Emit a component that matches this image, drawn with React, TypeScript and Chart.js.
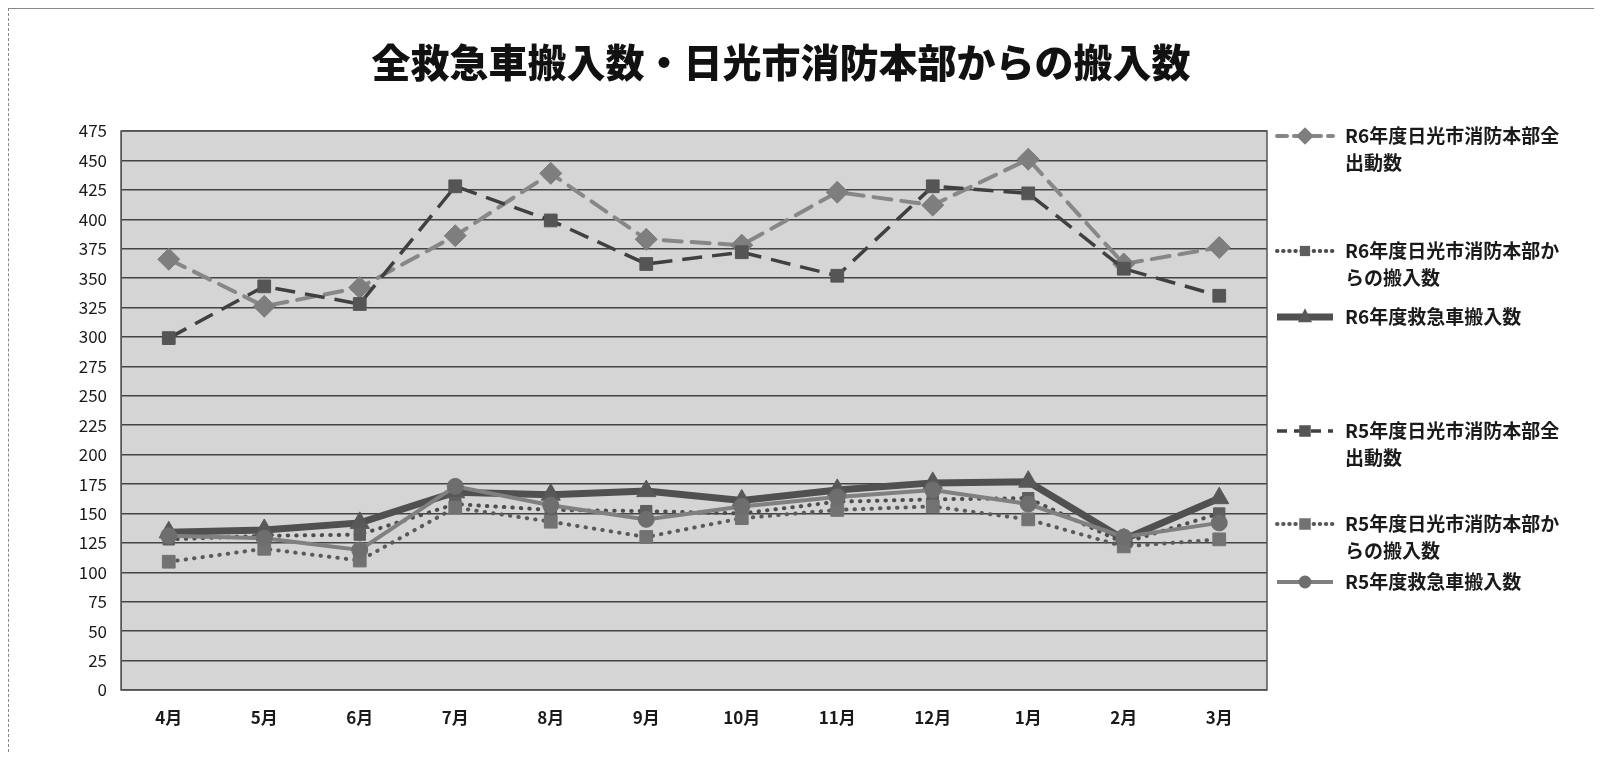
import React, { useEffect, useRef } from "react";
import { Chart, registerables } from "chart.js";

Chart.register(...registerables);

const chartTitle = "全救急車搬入数・日光市消防本部からの搬入数";
const months = ["4月", "5月", "6月", "7月", "8月", "9月", "10月", "11月", "12月", "1月", "2月", "3月"];
const yTicks = { min: 0, max: 475, step: 25 };

const seriesNames = [
  "R6年度日光市消防本部全出動数",
  "R6年度日光市消防本部からの搬入数",
  "R6年度救急車搬入数",
  "R5年度日光市消防本部全出動数",
  "R5年度日光市消防本部からの搬入数",
  "R5年度救急車搬入数",
];

const r6Dispatch = [366, 326, 342, 386, 439, 383, 378, 423, 412, 451, 362, 376];
const r6Transport = [128, 131, 132, 158, 153, 152, 150, 160, 162, 163, 125, 150];
const r6Ambulance = [134, 136, 142, 168, 166, 169, 161, 170, 176, 177, 128, 163];
const r5Dispatch = [299, 343, 328, 428, 399, 362, 372, 352, 428, 422, 358, 335];
const r5Transport = [109, 120, 110, 155, 143, 130, 146, 153, 156, 145, 122, 128];
const r5Ambulance = [131, 129, 119, 173, 157, 145, 156, 164, 170, 158, 130, 142];

const FONT = "'Noto Sans CJK JP', 'Noto Sans', sans-serif";

type Style = {
  color: string;
  markerColor: string;
  width: number;
  dash: number[];
  cap: CanvasLineCap;
  point: string;
  radius: number;
};

const styles: Style[] = [
  { color: "#878787", markerColor: "#7e7e7e", width: 4, dash: [18, 10], cap: "round", point: "rectRot", radius: 11 },
  { color: "#4e4e4e", markerColor: "#5e5e5e", width: 4, dash: [0.5, 8], cap: "round", point: "rect", radius: 8 },
  { color: "#505050", markerColor: "#585858", width: 7, dash: [], cap: "butt", point: "triangle", radius: 11 },
  { color: "#404040", markerColor: "#555555", width: 3.5, dash: [20, 10], cap: "butt", point: "rect", radius: 9 },
  { color: "#5a5a5a", markerColor: "#727272", width: 4, dash: [0.5, 8], cap: "round", point: "rect", radius: 9 },
  { color: "#808080", markerColor: "#6e6e6e", width: 4, dash: [], cap: "butt", point: "circle", radius: 8 },
];

const seriesValues = [r6Dispatch, r6Transport, r6Ambulance, r5Dispatch, r5Transport, r5Ambulance];

function drawMarker(ctx: CanvasRenderingContext2D, kind: string, x: number, y: number, r: number, color: string) {
  ctx.save();
  ctx.fillStyle = color;
  ctx.beginPath();
  if (kind === "rectRot") {
    ctx.moveTo(x, y - r);
    ctx.lineTo(x + r, y);
    ctx.lineTo(x, y + r);
    ctx.lineTo(x - r, y);
    ctx.closePath();
  } else if (kind === "rect") {
    const s = r * 0.8;
    ctx.rect(x - s, y - s, s * 2, s * 2);
  } else if (kind === "triangle") {
    ctx.moveTo(x, y - r);
    ctx.lineTo(x + r * 0.8, y + r * 0.6);
    ctx.lineTo(x - r * 0.8, y + r * 0.6);
    ctx.closePath();
  } else {
    ctx.arc(x, y, r, 0, Math.PI * 2);
  }
  ctx.fill();
  ctx.restore();
}

const plotBgPlugin = {
  id: "plotBg",
  beforeDraw(chart: any) {
    const { ctx, chartArea: a } = chart;
    ctx.save();
    ctx.fillStyle = "#d5d5d5";
    ctx.fillRect(a.left, a.top, a.right - a.left, a.bottom - a.top);
    ctx.restore();
  },
  beforeDatasetsDraw(chart: any) {
    const { ctx, chartArea: a } = chart;
    ctx.save();
    ctx.strokeStyle = "#555";
    ctx.lineWidth = 1.5;
    ctx.strokeRect(a.left, a.top, a.right - a.left, a.bottom - a.top);
    ctx.restore();
  },
  afterDraw(chart: any) {
    const { ctx } = chart;
    ctx.save();
    ctx.font = `900 39px ${FONT}`;
    ctx.fillStyle = "#111";
    ctx.textAlign = "center";
    ctx.textBaseline = "middle";
    ctx.fillText(chartTitle, 772, 53);
    ctx.restore();
  },
};

const legendTops = [127, 242, 308, 422, 515, 573];

const sideLegendPlugin = {
  id: "sideLegend",
  afterDraw(chart: any) {
    const { ctx, chartArea } = chart;
    const x0 = chartArea.right + 10;
    const x1 = x0 + 56;
    const tx = x1 + 12;
    const maxW = 228;
    ctx.save();
    ctx.font = `bold 19px ${FONT}`;
    ctx.textBaseline = "middle";
    ctx.fillStyle = "#1a1a1a";
    chart.data.datasets.forEach((ds: any, i: number) => {
      const st = styles[i];
      const y = legendTops[i];
      ctx.save();
      ctx.strokeStyle = st.color;
      ctx.lineWidth = st.width;
      ctx.lineCap = st.cap;
      ctx.setLineDash(st.dash.length ? [Math.min(st.dash[0], 10), st.dash[1] * 0.7] : []);
      ctx.beginPath();
      ctx.moveTo(x0, y);
      ctx.lineTo(x1, y);
      ctx.stroke();
      ctx.restore();
      drawMarker(ctx, st.point, (x0 + x1) / 2, y, st.radius * 0.8, st.markerColor);
      const lines: string[] = [];
      let cur = "";
      for (const ch of ds.label as string) {
        if (ctx.measureText(cur + ch).width > maxW && cur) {
          lines.push(cur);
          cur = ch;
        } else cur += ch;
      }
      if (cur) lines.push(cur);
      lines.forEach((ln, k) => ctx.fillText(ln, tx, y + k * 27));
    });
    ctx.restore();
  },
};

export default function App() {
  const ref = useRef<HTMLCanvasElement | null>(null);
  useEffect(() => {
    if (!ref.current) return;
    const chart = new Chart(ref.current, {
      type: "line",
      data: {
        labels: months,
        datasets: seriesNames.map((name, i) => ({
          label: name,
          data: seriesValues[i],
          borderColor: styles[i].color,
          backgroundColor: styles[i].markerColor,
          borderWidth: styles[i].width,
          borderDash: styles[i].dash,
          borderCapStyle: styles[i].cap,
          pointStyle: styles[i].point as any,
          pointRadius: styles[i].radius,
          pointBackgroundColor: styles[i].markerColor,
          pointBorderColor: styles[i].markerColor,
          pointBorderWidth: 1,
          tension: 0,
          fill: false,
          order: 6 - i,
        })),
      },
      options: {
        animation: false,
        responsive: true,
        maintainAspectRatio: false,
        layout: { padding: { left: 8, right: 327, top: 122, bottom: 10 } },
        plugins: {
          legend: { display: false },
          tooltip: { enabled: false },
          title: { display: false },
        },
        scales: {
          x: {
            offset: true,
            grid: { display: false },
            border: { display: false },
            ticks: { color: "#1a1a1a", font: { family: FONT, size: 17, weight: "bold" }, padding: 9 },
            afterFit: (s: any) => {
              s.height = 52;
            },
          },
          y: {
            min: yTicks.min,
            max: yTicks.max,
            grid: { color: "#444", lineWidth: 1.5, drawTicks: false },
            border: { display: true, color: "#555" },
            ticks: { stepSize: yTicks.step, color: "#1a1a1a", font: { family: FONT, size: 17 }, padding: 14 },
            afterFit: (s: any) => {
              s.width = 104;
            },
          },
        },
      },
      plugins: [plotBgPlugin, sideLegendPlugin],
    });
    return () => chart.destroy();
  }, []);
  return (
    <div style={{ width: 1586, height: 744, position: "relative", borderTop: "1px solid #888", borderLeft: "1px dashed #888", boxSizing: "border-box" }}>
      <canvas ref={ref} />
    </div>
  );
}
